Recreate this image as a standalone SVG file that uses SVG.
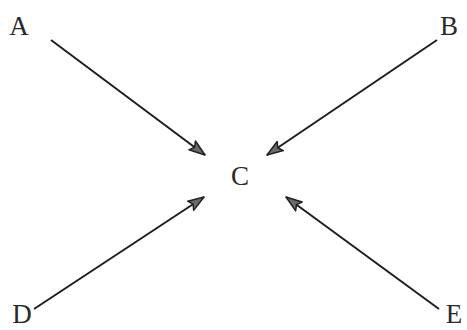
<svg xmlns="http://www.w3.org/2000/svg" width="467" height="330" viewBox="0 0 467 330">
<style>
.lbl{font-family:"Liberation Serif","Times New Roman",serif;font-size:27px;fill:#2a2a2a;text-anchor:middle}
.edge{stroke:#1e1e1e;stroke-width:2;fill:none;marker-end:url(#ah)}
</style>
<defs>
<marker id="ah" viewBox="0 0 18 14" refX="17" refY="7" markerWidth="18" markerHeight="14" markerUnits="userSpaceOnUse" orient="auto">
<path d="M1,1.5 L17,7 L1,12.5 L4,7 Z" fill="#6a6a6a" stroke="#222" stroke-width="1.5" stroke-linejoin="round"/>
</marker>
</defs>
<rect width="467" height="330" fill="#fff"/>
<g id="edges">
<line class="edge" x1="51" y1="40" x2="205" y2="155"/>
<line class="edge" x1="437" y1="40" x2="267" y2="155"/>
<line class="edge" x1="34" y1="309" x2="204" y2="197"/>
<line class="edge" x1="439" y1="309" x2="286" y2="197"/>
</g>
<g id="A"><text class="lbl" x="19" y="35">A</text></g>
<g id="B"><text class="lbl" x="449" y="35">B</text></g>
<g id="C"><text class="lbl" x="240" y="185">C</text></g>
<g id="D"><text class="lbl" x="22" y="323">D</text></g>
<g id="E"><text class="lbl" x="454" y="323">E</text></g>
</svg>
